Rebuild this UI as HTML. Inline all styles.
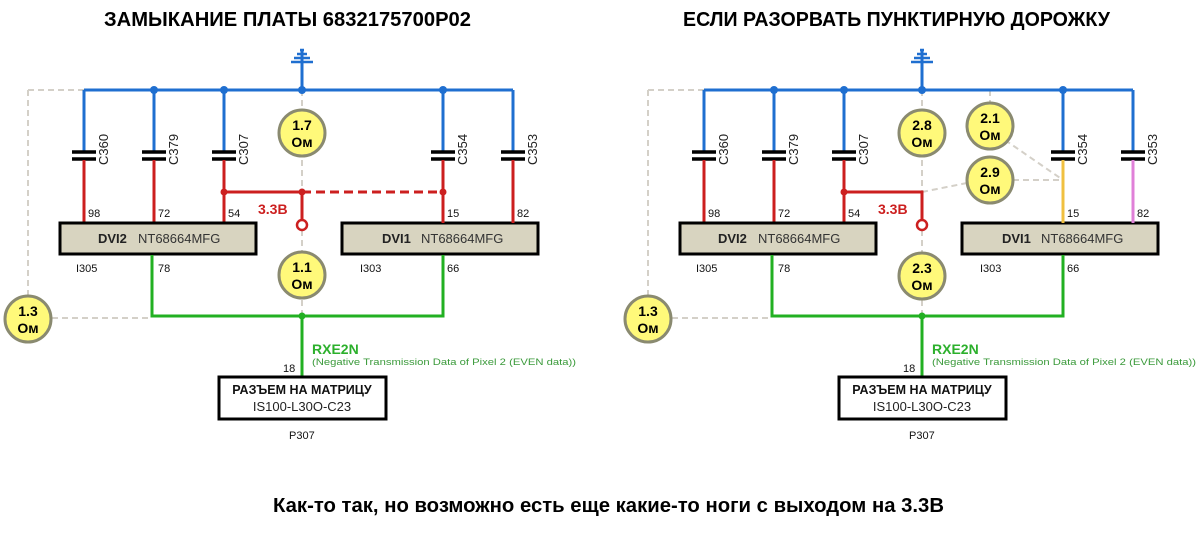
<!DOCTYPE html>
<html><head><meta charset="utf-8"><style>
html,body{margin:0;padding:0;background:#fff;}
svg{display:block;}
text{font-family:"Liberation Sans","DejaVu Sans",sans-serif;}
</style></head><body>
<svg width="1198" height="537" viewBox="0 0 1198 537" xmlns="http://www.w3.org/2000/svg">
<defs>
<g id="base">
  <g stroke="#d4d0c8" stroke-width="2" stroke-dasharray="6,4" fill="none">
    <path d="M28 90 H84"/>
    <path d="M28 90 V296"/>
    <path d="M52 318 H152"/>
    <path d="M302 90 V316"/>
  </g>
  <g stroke="#1f6fd0" stroke-width="3" fill="none">
    <path d="M302 49 V90"/>
    <path d="M300 50 h4 M297 54 h10 M294 58 h16 M291 62 h22" stroke-width="2.5"/>
    <path d="M84 90 H513"/>
    <path d="M84 90 V152 M154 90 V152 M224 90 V152 M443 90 V152 M513 90 V152"/>
  </g>
  <g fill="#1f6fd0"><circle cx="154" cy="90" r="4"/><circle cx="224" cy="90" r="4"/><circle cx="302" cy="90" r="4"/><circle cx="443" cy="90" r="4"/></g>
  <g stroke="#000" stroke-width="3.5">
    <path d="M72 152 h24 M72 159 h24"/>
    <path d="M142 152 h24 M142 159 h24"/>
    <path d="M212 152 h24 M212 159 h24"/>
    <path d="M431 152 h24 M431 159 h24"/>
    <path d="M501 152 h24 M501 159 h24"/>
  </g>
  <g font-size="13" fill="#222">
    <text transform="translate(108,165) rotate(-90)">C360</text>
    <text transform="translate(178,165) rotate(-90)">C379</text>
    <text transform="translate(248,165) rotate(-90)">C307</text>
    <text transform="translate(467,165) rotate(-90)">C354</text>
    <text transform="translate(537,165) rotate(-90)">C353</text>
  </g>
  <g stroke="#cc1f1f" stroke-width="3" fill="none">
    <path d="M84 160 V223 M154 160 V223 M224 160 V223"/>
    <path d="M224 192 H302 V220"/>
  </g>
  <circle cx="302" cy="225" r="5" fill="#fff" stroke="#cc1f1f" stroke-width="2.5"/>
  <g fill="#cc1f1f"><circle cx="224" cy="192" r="3.5"/></g>
  <text x="258" y="214" font-size="14" font-weight="bold" fill="#cc1f1f">3.3В</text>
  <g font-size="11" fill="#111">
    <text x="88" y="217">98</text><text x="158" y="217">72</text><text x="228" y="217">54</text>
    <text x="447" y="217">15</text><text x="517" y="217">82</text>
    <text x="76" y="272">I305</text><text x="158" y="272">78</text>
    <text x="360" y="272">I303</text><text x="447" y="272">66</text>
    <text x="283" y="372">18</text>
    <text x="289" y="439">P307</text>
  </g>
  <rect x="60" y="223" width="196" height="31" fill="#d8d4c0" stroke="#000" stroke-width="3"/>
  <rect x="342" y="223" width="196" height="31" fill="#d8d4c0" stroke="#000" stroke-width="3"/>
  <text x="98" y="243" font-size="13" font-weight="bold" fill="#222">DVI2</text>
  <text x="138" y="243" font-size="13" fill="#333">NT68664MFG</text>
  <text x="382" y="243" font-size="13" font-weight="bold" fill="#222">DVI1</text>
  <text x="421" y="243" font-size="13" fill="#333">NT68664MFG</text>
  <g stroke="#22b022" stroke-width="3" fill="none">
    <path d="M152 255 V316 H443 V255"/>
    <path d="M302 316 V377"/>
  </g>
  <circle cx="302" cy="316" r="3.5" fill="#22b022"/>
  <text x="312" y="354" font-size="14" font-weight="bold" fill="#2cb02c">RXE2N</text>
  <text x="312" y="365" font-size="9.5" fill="#3a9a3a" textLength="264" lengthAdjust="spacingAndGlyphs">(Negative Transmission Data of Pixel 2 (EVEN  data))</text>
  <rect x="219" y="377" width="167" height="42" fill="#fff" stroke="#000" stroke-width="3"/>
  <text x="302" y="394" font-size="12.5" font-weight="bold" fill="#111" text-anchor="middle">РАЗЪЕМ НА МАТРИЦУ</text>
  <text x="302" y="411" font-size="13" fill="#222" text-anchor="middle">IS100-L30O-C23</text>
  <circle cx="28" cy="319" r="23" fill="#fff97a" stroke="#8a8a70" stroke-width="3"/>
  <text x="28" y="316" font-size="14" font-weight="bold" text-anchor="middle">1.3</text>
  <text x="28" y="333" font-size="14" font-weight="bold" text-anchor="middle">Ом</text>
</g>
<g id="ohm"><circle r="23" fill="#fff97a" stroke="#8a8a70" stroke-width="3"/></g>
</defs>

<use href="#base"/>
<g stroke="#cc1f1f" stroke-width="3" fill="none">
  <path d="M443 160 V223 M513 160 V223"/>
  <path d="M302 192 H443" stroke-dasharray="9,5"/>
</g>
<g fill="#cc1f1f"><circle cx="302" cy="192" r="3.5"/><circle cx="443" cy="192" r="3.5"/></g>
<use href="#ohm" x="302" y="133"/>
<text x="302" y="130" font-size="14" font-weight="bold" text-anchor="middle">1.7</text>
<text x="302" y="147" font-size="14" font-weight="bold" text-anchor="middle">Ом</text>
<use href="#ohm" x="302" y="275"/>
<text x="302" y="272" font-size="14" font-weight="bold" text-anchor="middle">1.1</text>
<text x="302" y="289" font-size="14" font-weight="bold" text-anchor="middle">Ом</text>

<g transform="translate(620,0)">
  <g stroke="#d4d0c8" stroke-width="2" stroke-dasharray="6,4" fill="none">
    <path d="M370 90 V104"/>
    <path d="M385 140 L443 180"/>
    <path d="M393 180 H443"/>
    <path d="M302 192 L347 183"/>
  </g>
  <use href="#base"/>
  <path d="M443 160 V223" stroke="#f0c040" stroke-width="3"/>
  <path d="M513 160 V223" stroke="#e080d8" stroke-width="3"/>
  <use href="#ohm" x="302" y="133"/>
  <text x="302" y="130" font-size="14" font-weight="bold" text-anchor="middle">2.8</text>
  <text x="302" y="147" font-size="14" font-weight="bold" text-anchor="middle">Ом</text>
  <use href="#ohm" x="370" y="126"/>
  <text x="370" y="123" font-size="14" font-weight="bold" text-anchor="middle">2.1</text>
  <text x="370" y="140" font-size="14" font-weight="bold" text-anchor="middle">Ом</text>
  <use href="#ohm" x="370" y="180"/>
  <text x="370" y="177" font-size="14" font-weight="bold" text-anchor="middle">2.9</text>
  <text x="370" y="194" font-size="14" font-weight="bold" text-anchor="middle">Ом</text>
  <use href="#ohm" x="302" y="276"/>
  <text x="302" y="273" font-size="14" font-weight="bold" text-anchor="middle">2.3</text>
  <text x="302" y="290" font-size="14" font-weight="bold" text-anchor="middle">Ом</text>
</g>

<text x="104" y="26" font-size="20" font-weight="bold" fill="#000" textLength="367" lengthAdjust="spacingAndGlyphs">ЗАМЫКАНИЕ ПЛАТЫ 6832175700P02</text>
<text x="683" y="26" font-size="20" font-weight="bold" fill="#000" textLength="427" lengthAdjust="spacingAndGlyphs">ЕСЛИ РАЗОРВАТЬ ПУНКТИРНУЮ ДОРОЖКУ</text>
<text x="273" y="512" font-size="20" font-weight="bold" fill="#000" textLength="671" lengthAdjust="spacingAndGlyphs">Как-то так, но возможно есть еще какие-то ноги с выходом на 3.3В</text>
</svg>
</body></html>
